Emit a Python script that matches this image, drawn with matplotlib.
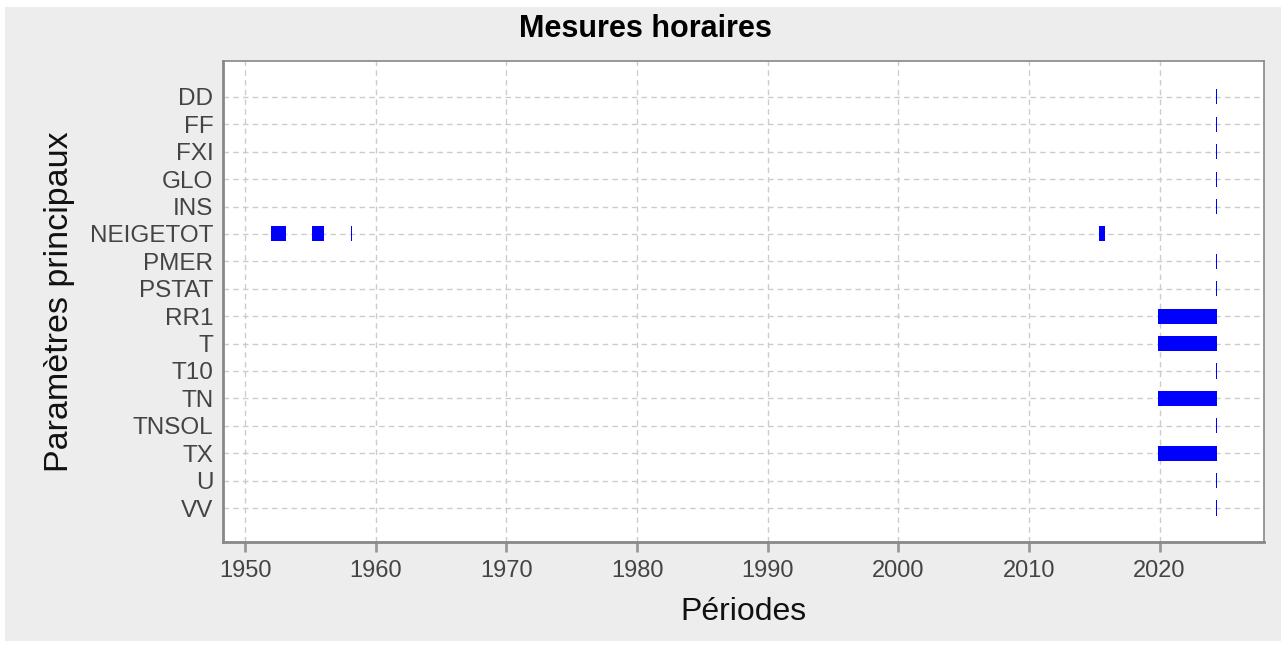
import matplotlib.pyplot as plt
from matplotlib.patches import Rectangle

plt.rcParams["font.family"] = ["Liberation Sans", "DejaVu Sans"]

# parametres (de haut en bas)
params = ["DD", "FF", "FXI", "GLO", "INS", "NEIGETOT", "PMER", "PSTAT",
          "RR1", "T", "T10", "TN", "TNSOL", "TX", "U", "VV"]

# periodes de mesure (annees decimales)
bar_param = ["DD", "FF", "FXI", "GLO", "INS",
             "NEIGETOT", "NEIGETOT", "NEIGETOT", "NEIGETOT",
             "PMER", "PSTAT", "RR1", "T", "T10", "TN", "TNSOL", "TX", "U", "VV"]
bar_start = [2024.30, 2024.30, 2024.30, 2024.30, 2024.30,
             1952.00, 1955.13, 1958.12, 2015.34,
             2024.30, 2024.30, 2019.90, 2019.90, 2024.30, 2019.90, 2024.30, 2019.90, 2024.30, 2024.30]
bar_end = [2024.38, 2024.38, 2024.38, 2024.38, 2024.38,
           1953.15, 1956.05, 1958.20, 2015.80,
           2024.38, 2024.38, 2024.38, 2024.38, 2024.38, 2024.38, 2024.38, 2024.38, 2024.38, 2024.38]

xticks = [1950, 1960, 1970, 1980, 1990, 2000, 2010, 2020]

fig = plt.figure(figsize=(12.86, 6.46), dpi=100, facecolor="white")
fig.patches.append(Rectangle((5 / 1286, 5 / 646), 1276 / 1286, 634 / 646,
                             transform=fig.transFigure, facecolor="#ededed",
                             edgecolor="none", zorder=-10))

ax = fig.add_axes([223 / 1286, 1 - 542 / 646, (1264 - 223) / 1286, (542 - 61) / 646])
ax.set_facecolor("white")

ypos = [params.index(p) for p in bar_param]
widths = [e - s for s, e in zip(bar_start, bar_end)]
ax.barh(ypos, widths, left=bar_start, height=0.55, color="#0000ff", zorder=3)

ax.set_yticks(range(len(params)))
ax.set_yticklabels(params)
ax.set_ylim(len(params) - 1 + 1.24, -1.31)
ax.set_xlim(1948.3, 2028.0)
ax.set_xticks(xticks)

ax.grid(True, linestyle=(0, (4, 3)), color="#cccccc", linewidth=1, zorder=0)
ax.set_axisbelow(True)

for s in ax.spines.values():
    s.set_color("#888888")
    s.set_linewidth(1.2)
ax.spines["left"].set_linewidth(2)
ax.spines["bottom"].set_linewidth(2)

ax.tick_params(axis="x", length=7, width=2, color="#999999", labelsize=17,
               labelcolor="#444444", pad=6)
ax.tick_params(axis="y", length=0, labelsize=17.5, labelcolor="#444444", pad=7)

ax.set_xlabel("Périodes", fontsize=23, color="#111111", labelpad=11)
ax.set_ylabel("Paramètres principaux", fontsize=24.5, color="#111111", labelpad=11)
fig.suptitle("Mesures horaires", fontsize=22, fontweight="bold", x=645 / 1286,
             y=1 - 29 / 646, va="center")

fig.savefig("out.png", dpi=100, facecolor=fig.get_facecolor())
